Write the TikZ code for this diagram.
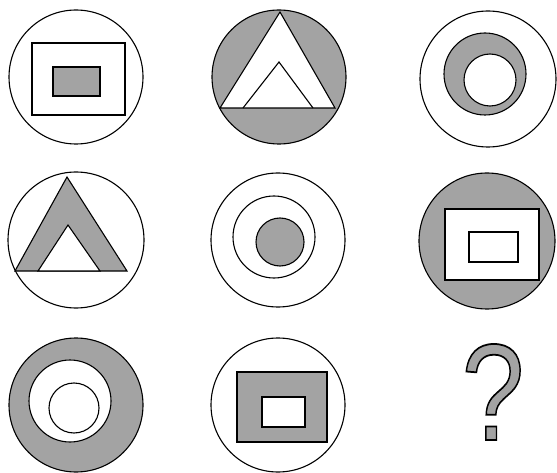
\documentclass[tikz,border=0pt]{standalone}
\usepackage{fontspec}
\setmainfont{Liberation Sans}
\begin{document}
\begin{tikzpicture}[x=1pt,y=-1pt,line width=1.1pt,
  shaded/.style={fill=black!36},
  blank/.style={fill=white}]
\useasboundingbox (0,0) rectangle (557,473);
% row 1, left: circle with rectangle and shaded rectangle
\draw (76,77) circle[radius=67pt];
\draw (32,43) rectangle (125,115);
\draw[shaded] (53,67) rectangle (100,96);
% row 1, middle: shaded circle with two triangles
\draw[shaded] (279,77) circle[radius=67pt];
\draw[blank] (280,12) -- (220,108) -- (335,108) -- cycle;
\draw (243,108) -- (279,62) -- (313,108);
% row 1, right: circle with shaded ring
\draw (488,79) circle[radius=68pt];
\draw[shaded] (485,74) circle[radius=41pt];
\draw[blank] (490,80) circle[radius=26pt];
% row 2, left: circle with shaded triangle
\draw (76,240) circle[radius=68pt];
\draw[shaded] (67,177) -- (15,271) -- (127,271) -- cycle;
\draw[blank] (68,225) -- (38,271) -- (100,271) -- cycle;
% row 2, middle: three circles, shaded core
\draw (278,240) circle[radius=67pt];
\draw (274,237) circle[radius=41pt];
\draw[shaded] (280,242) circle[radius=24pt];
% row 2, right: shaded circle with rectangles
\draw[shaded] (487,241) circle[radius=68pt];
\draw[blank] (445,209) rectangle (539,280);
\draw (469,232) rectangle (518,262);
% row 3, left: shaded ring with circles
\draw[shaded] (76,405) circle[radius=67pt];
\draw[blank] (70,401) circle[radius=41pt];
\draw (74,408) circle[radius=25pt];
% row 3, middle: circle with shaded rectangle frame
\draw (278,405) circle[radius=67pt];
\draw[shaded] (237,372) rectangle (327,442);
\draw[blank] (262,397) rectangle (305,427);
% question mark
\node[anchor=base,inner sep=0pt,xscale=0.9,yscale=1.1] (q) at (493,440)
  {\fontsize{125}{125}\selectfont\textcolor{black!36}{\special{pdf:literal direct 2 Tr 1.6 w 0 G}?\special{pdf:literal direct 0 Tr}}};
\end{tikzpicture}
\end{document}
